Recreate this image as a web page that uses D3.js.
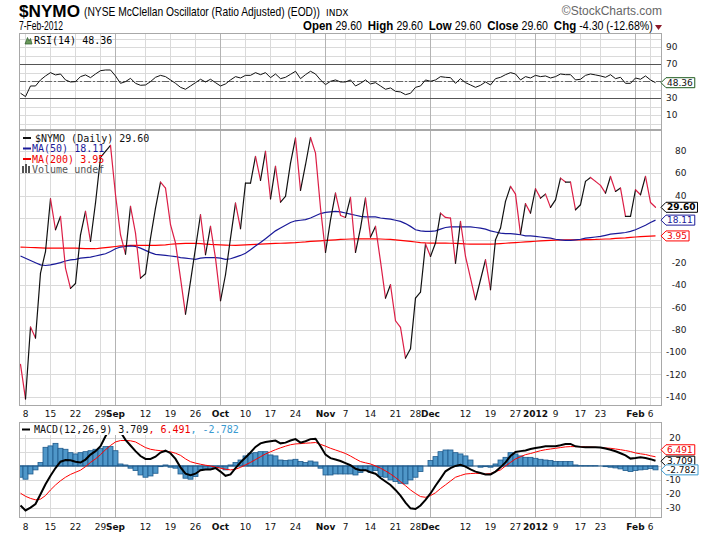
<!DOCTYPE html>
<html>
<head>
<meta charset="utf-8">
<script src="https://cdn.jsdelivr.net/npm/d3@7"></script>
<style>
body { margin:0; background:#fff; }
</style>
</head>
<body>
<div id="chart"></div>
<script>
// trading-day index of each date label, text, and whether it starts a month
var tickIdx    = [1, 6, 11, 16, 19, 25, 30, 35, 40, 45, 50, 55, 61, 65, 70, 75, 79, 82, 89, 94, 99, 103, 107, 112, 116, 123, 126];
var tickLabels = ["8","15","22","29","Sep","12","19","26","Oct","10","17","24","Nov","7","14","21","28","Dec","12","19","27","2012","9","17","23","Feb","6"];
var tickMonth  = [0,0,0,0,1,0,0,0,1,0,0,0,1,0,0,0,0,1,0,0,0,1,0,0,0,1,0];

// $NYMO daily close, 5-Aug-2011 .. 7-Feb-2012
var nymo = [-111, -142, -77.6, -87.5, -29.3, -10, 37.2, 9.5, 21.4, -24.8,
  -43, -38.6, 5, 25.9, -1, 33.4, 74.2, 79.6, 85, 40.8,
  5, -12.3, 30.4, 6.5, -33.8, -29.9, 2, 28.9, 52.2, 46.8,
  14, -2.4, -33.8, -66, -36.8, -6.9, 22.9, -12.9, 12.5, -15.9,
  -54.1, -30.8, 2, 33.4, 10.4, 51.3, 51.3, 75.1, 53.7, 79.6,
  37.2, 66.2, 34.3, 39.3, 69.2, 91.5, 44.7, 67.7, 92.1, 78.1,
  28.9, -10.8, 18.4, 42.3, 22.3, 20.5, 38.4, -10.8, 11, 37.8,
  2.9, 12.5, -18.9, -51.7, -39.8, -72, -78, -105.4, -97, -51.7,
  -46.3, -3.3, -14.4, -2.4, 24.4, 20.5, 19.9, -20.4, 16.9, -14.4,
  -33.8, -53.2, -35.3, -17.4, -44.2, 0.5, 11, 34.9, 48.3, 41.4,
  5.6, 32.8, 24.4, 46.2, 37.8, 41.4, 29.5, 36.3, 55.7, 52.2,
  52.2, 27.4, 31.9, 52.8, 56.3, 52.8, 49.2, 42.3, 57.2, 43.8,
  46.8, 21.4, 21.4, 45.3, 40.8, 57.2, 33.9, 29.6];

var ma50 = [-14, -16, -18, -20, -22, -22.5, -22, -21, -20, -18.5,
  -17.5, -17, -16, -15.5, -15, -14, -13, -12, -10, -7.5,
  -6, -5.5, -5, -5.5, -7, -9, -11, -12.5, -13, -13.5,
  -14, -14.5, -15.5, -16, -16.5, -17, -16, -15.5, -15.5, -15.5,
  -16, -17, -16.5, -15, -13.5, -11.5, -8.5, -5, -2, 1.5,
  5, 8.5, 11, 13.5, 16, 17.5, 18, 18.5, 20, 22,
  24, 25, 25.5, 26, 25.5, 24.5, 23.5, 22.5, 21.5, 21,
  21, 21, 20, 19.5, 19, 18, 17, 15, 12.5, 9.5,
  8.5, 8, 8, 8.5, 10, 11.5, 12, 12, 12, 12,
  12, 11.5, 11, 10, 8.5, 7.5, 6.5, 6, 6, 5.5,
  5, 4, 4, 3.5, 3, 2.5, 2, 1, 0.5, 0,
  0, 0.5, 1, 2, 2.5, 3, 3.5, 4.5, 5.5, 6,
  6.5, 7, 8, 9.5, 11.5, 13.5, 16, 18.11];

var ma200 = [-6, -6.2, -6.4, -6.6, -6.8, -7, -7, -7, -7, -7,
  -7, -7, -7.2, -7.4, -7.5, -7.5, -7, -6.5, -6, -5.5,
  -5, -4.8, -4.5, -4.5, -4.5, -4.5, -4.5, -4.5, -4.2, -4,
  -3.5, -3.2, -3, -2.8, -2.7, -2.7, -3, -3.3, -3.6, -3.8,
  -4, -4.2, -4.4, -4.5, -4.2, -4, -3.8, -3.6, -3.4, -3.2,
  -3, -2.8, -2.6, -2.4, -2.2, -2, -1.7, -1.4, -1, -0.7,
  -0.4, -0.1, 0.2, 0.5, 0.8, 1, 1.2, 1.3, 1.4, 1.4,
  1.4, 1.3, 1.2, 1, 0.8, 0.5, 0, -0.5, -1, -1.5,
  -2, -2.3, -2.4, -2.4, -2.4, -2.4, -2.6, -2.8, -3, -3.2,
  -3.3, -3.4, -3.4, -3.4, -3.3, -3.2, -2.9, -2.6, -2.3, -2,
  -1.7, -1.4, -1.1, -0.8, -0.5, -0.2, 0, 0.2, 0.3, 0.4,
  0.5, 0.5, 0.5, 0.6, 0.7, 0.8, 1, 1.2, 1.4, 1.7,
  2, 2.3, 2.7, 3, 3.3, 3.6, 3.8, 3.95];

var rsi = [36, 32, 44.5, 44.5, 51.6, 56.3, 60.2, 57.5, 58.6, 51.6,
  49.2, 49.6, 55.5, 57.5, 54.3, 58.6, 62.5, 63.3, 63.3, 56.3,
  47.6, 49.6, 53.5, 47.6, 45.3, 45.7, 49.6, 54.7, 57, 55.5,
  51.6, 47.6, 42.9, 40.6, 44.5, 48.4, 52.4, 49.2, 52.4, 48.4,
  44.5, 46.9, 51.6, 55.5, 53.9, 57, 57, 60.2, 57.8, 60.2,
  54.3, 58.6, 53.1, 54.7, 58.2, 61.8, 53.1, 57.8, 61.8, 58.6,
  51.6, 46.1, 50, 51.6, 49.2, 49.2, 51.6, 44.5, 47.6, 51.6,
  46.9, 48.4, 44.5, 40.6, 42.2, 38.2, 37.5, 34.3, 35.9, 42.9,
  44.5, 51.6, 50, 51.6, 55.5, 54.7, 54.3, 47.6, 53.1, 48.4,
  45.7, 42.9, 45.3, 49.2, 45.7, 53.1, 54.7, 57.8, 60.2, 58.6,
  51.6, 55.5, 53.9, 57, 55.5, 56.3, 53.9, 55.5, 58.6, 57.8,
  57.8, 51.6, 52.4, 57, 58.6, 57.5, 56.3, 54.7, 57.8, 53.1,
  54.7, 47.6, 47.6, 53.9, 52.4, 56.3, 51.6, 48.36];

var macd = [-28, -31.5, -29.5, -27, -20, -13, -7, -1.5, 3, 4.2,
  4, 3, 2.4, 4.5, 8, 10.5, 14, 21, 27.5, 29,
  24, 18.5, 14.5, 10.5, 7, 5, 5, 6.5, 9.5, 10.8,
  9, 5, -1, -5.5, -6.5, -5.5, -3, -2.5, -2.5, -1.5,
  -4, -7, -6, -1.5, 2.5, 6, 9.5, 13.5, 16, 17,
  17.5, 18, 16, 16.5, 18, 19, 16.5, 17.5, 19, 19.3,
  14, 8, 5.5, 4.5, 3.5, 2, 0.5, -2, -3, -3,
  -4.5, -5.5, -8.5, -11, -13.5, -17, -21, -26, -30, -30.5,
  -28, -24, -19.5, -14, -9, -3.8, -1.5, 0, 0.8, -0.5,
  -2.5, -4, -5, -6, -6, -4, -1, 2.5, 7, 9.9,
  10.5, 11, 12, 12.7, 13.3, 13.9, 13.9, 14, 14.6, 15.5,
  15.6, 13.9, 13.5, 13.2, 13.2, 13.2, 13, 12.3, 11.5, 10.4,
  9, 7.5, 5.2, 5.6, 6.1, 5.6, 4.8, 3.709];

var signal = [-19.3, -21.5, -23, -24, -23.5, -21, -17, -13.5, -10.5, -8,
  -6, -4.5, -3, -0.5, 2.5, 5, 8, 11.5, 14.5, 17,
  18, 18, 17.8, 17, 15, 13, 11.8, 11.2, 10.8, 10.4,
  10, 9, 7.5, 5, 3, 2, 1.2, 0.5, 0, -0.8,
  -1.6, -2.3, -2.8, -2.3, -1, 0.8, 2.5, 4.5, 6.5, 8.5,
  10, 11.5, 12.8, 14, 15, 15.6, 15.8, 16.1, 16.3, 16.6,
  15.3, 14, 12.5, 11.3, 10.1, 8.8, 7, 5, 3.1, 2.2,
  1.4, 0, -1.6, -3.5, -5.7, -8.2, -11.1, -14, -17, -19.5,
  -21.7, -22.2, -21, -19, -16, -13.4, -10.7, -8, -6.8, -5.7,
  -5.4, -5.2, -5.4, -5.7, -5.4, -4, -2.8, 0, 2.5, 5,
  6.5, 8, 8.8, 9.8, 10.8, 11.5, 12, 12.5, 13, 13.5,
  13.7, 13.7, 13.7, 13.5, 13.4, 13.2, 13, 12.7, 12.5, 12,
  11.5, 10.9, 10.2, 9.2, 8.6, 8.1, 7.2, 6.491];

var hist = [-8, -9.4, -5.7, -2.8, 2.4, 13.2, 14.2, 16, 12.5, 11.8,
  9.4, 8.5, 9.4, 10.1, 10.8, 11.8, 12.5, 13.7, 13.7, 10.8,
  1.4, 0.7, -1.6, -3.3, -6.4, -8, -7.1, -5.2, -0.5, 0.7,
  -0.9, -1.6, -5.7, -8.7, -9.4, -7.5, -2.8, -2.4, -2.4, -1.6,
  -0.9, -2.8, 0.7, 2.4, 4.2, 7.1, 8.9, 9.4, 10.1, 10.1,
  7.8, 7.1, 4.2, 3.8, 4.2, 4.7, 3.1, 2.4, 3.5, 2.8,
  -1.6, -6.4, -6.4, -5.7, -5.7, -5.7, -5.7, -6.4, -4.7, -2.8,
  -4.7, -3.3, -7.5, -8, -9.9, -11.1, -12.3, -12.7, -9.9, -8,
  -4, 0, 3.8, 6.6, 10.1, 11.3, 11.3, 9.4, 8.5, 7.1,
  4.2, 0, -0.9, -0.5, -0.9, 1.4, 4.2, 6.1, 9.4, 8.5,
  7.1, 6.1, 6.1, 5.4, 4.7, 4.2, 3.8, 3.1, 3.1, 3.1,
  3.1, 0.7, 0.2, 0.2, 0.2, 0.2, 0, -0.5, -0.9, -1.4,
  -2.1, -3.3, -4, -3.3, -2.8, -2.4, -1.9, -2.782];

var rsiGrid  = [0,10,20,30,40,50,60,70,80,90,100];
var rsiTicks = [90,70,30,10];
var mainGrid = [80,60,40,20,0,-20,-40,-60,-80,-100,-120,-140];
var mainTicks = [80,60,40,-20,-40,-60,-80,-100,-120,-140];   // 20 and 0 sit under the value tags
var macdGrid = [20,10,0,-10,-20,-30];
var macdTicks = [20,-10,-20,-30];

var W = 709, H = 535;
var L = 19, R = 662;
var axisFont = "DejaVu Sans", legFont = "DejaVu Sans Mono", headFont = "'Liberation Sans',Arial,sans-serif";

var svg = d3.select("#chart").append("svg").attr("width", W).attr("height", H);
svg.append("rect").attr("width", W).attr("height", H).attr("fill", "#fff");

var x = d3.scaleLinear().domain([0, nymo.length - 1]).range([20.5, 655.5]);
var yR = d3.scaleLinear().domain([0, 100]).range([123.8, 38.8]);
var yM = d3.scaleLinear().domain([-140, 80]).range([396.7, 151]);
var yC = d3.scaleLinear().domain([-30, 20]).range([508.3, 437.7]);

function panel(name, top, bot, y, gridVals) {
  var g = svg.append("g");
  g.append("clipPath").attr("id", "clip-" + name)
    .append("rect").attr("x", L).attr("y", top).attr("width", R - L).attr("height", bot - top);
  g.selectAll("line.h").data(gridVals.filter(function(v) { return y(v) > top + 1 && y(v) < bot - 1; }))
    .enter().append("line").attr("class", "h")
    .attr("x1", L).attr("x2", R)
    .attr("y1", function(d) { return Math.round(y(d)) + 0.5; })
    .attr("y2", function(d) { return Math.round(y(d)) + 0.5; })
    .attr("stroke", "#dadada").attr("shape-rendering", "crispEdges");
  g.selectAll("line.v").data(tickIdx)
    .enter().append("line").attr("class", "v")
    .attr("x1", function(d) { return x(d); }).attr("x2", function(d) { return x(d); })
    .attr("y1", top).attr("y2", bot)
    .attr("stroke", function(d, k) { return tickMonth[k] ? "#b4b4b4" : "#dadada"; })
    .attr("shape-rendering", "crispEdges");
  var plot = g.append("g").attr("clip-path", "url(#clip-" + name + ")");
  return {g: g, plot: plot, top: top, bot: bot};
}

function frame(p) {
  p.g.append("rect").attr("x", L + 0.5).attr("y", p.top + 0.5)
    .attr("width", R - L - 1).attr("height", p.bot - p.top - 1)
    .attr("fill", "none").attr("stroke", "#a8a8a8").attr("shape-rendering", "crispEdges");
}

function axisLabels(vals, y) {
  var g = svg.append("g").attr("font-family", axisFont).attr("font-size", 9).attr("fill", "#222");
  var t = g.selectAll("text").data(vals).enter().append("text")
    .attr("y", function(d) { return y(d); }).attr("dy", "0.35em")
    .text(function(d) { return d; });
  var maxW = d3.max(t.nodes(), function(n) { return n.getComputedTextLength(); });
  t.attr("x", 666 + maxW).attr("text-anchor", "end");
}

function dateLabels(yb) {
  svg.append("g").attr("font-family", axisFont).attr("font-size", 9).attr("fill", "#111")
    .selectAll("text").data(tickIdx).enter().append("text")
    .attr("x", function(d) { return x(d); }).attr("y", yb)
    .attr("text-anchor", "middle")
    .attr("font-weight", function(d, k) { return tickMonth[k] ? "bold" : "normal"; })
    .text(function(d, k) { return tickLabels[k]; });
}

function tag(yv, txt, stroke, color, bold) {
  var g = svg.append("g");
  var t = g.append("text").attr("x", 667).attr("y", yv).attr("dy", "0.35em")
    .attr("font-family", axisFont).attr("font-size", 9).attr("fill", color)
    .attr("font-weight", bold ? "bold" : "normal").text(txt);
  var w = t.node().getComputedTextLength();
  var x0 = 661, x1 = 667 + w + 2, h = 5;
  g.insert("path", "text")
    .attr("d", "M" + x0 + "," + yv + "L" + (x0 + 5) + "," + (yv - h) + "L" + x1 + "," + (yv - h) +
               "L" + x1 + "," + (yv + h) + "L" + (x0 + 5) + "," + (yv + h) + "Z")
    .attr("fill", "#fff").attr("stroke", stroke).attr("stroke-width", 1);
}

// header text squeezed horizontally to look like a narrow face
function narrow(g, x0, y0, width, anchorEnd) {
  var t = g.select("text");
  var w = t.node().getComputedTextLength();
  var s = width / w;
  var tx = anchorEnd ? x0 - width : x0;
  g.attr("transform", "translate(" + tx + "," + y0 + ") scale(" + s + ",1)");
}

// ---------- header ----------
var h1 = svg.append("g");
h1.append("text").attr("font-family", headFont).attr("font-size", 16).attr("font-weight", "bold").text("$NYMO");
narrow(h1, L, 17, 61);
var h2 = svg.append("g");
h2.append("text").attr("font-family", headFont).attr("font-size", 12)
  .text("(NYSE McClellan Oscillator (Ratio Adjusted) (EOD))");
narrow(h2, 84, 16, 236);
svg.append("text").attr("x", 326).attr("y", 16).attr("font-family", axisFont)
  .attr("font-size", 9).text("INDX");
svg.append("text").attr("x", R).attr("y", 15).attr("text-anchor", "end").attr("font-family", headFont)
  .attr("font-size", 12).attr("fill", "#666").text("\u00a9StockCharts.com");
var h3 = svg.append("g");
h3.append("text").attr("font-family", headFont).attr("font-size", 12).text("7-Feb-2012");
narrow(h3, L, 30, 44);

var h4 = svg.append("g");
var quote = h4.append("text").attr("font-family", headFont).attr("font-size", 12).attr("xml:space", "preserve");
[["Open ", 1], ["29.60  ", 0], ["High ", 1], ["29.60  ", 0], ["Low ", 1], ["29.60  ", 0],
 ["Close ", 1], ["29.60  ", 0], ["Chg ", 1], ["-4.30 (-12.68%)", 0]].forEach(function(p) {
  quote.append("tspan").attr("font-weight", p[1] ? "bold" : "normal")
    .attr("font-size", p[1] ? 13 : 12).text(p[0]);
});
narrow(h4, 653, 30, 350, true);
svg.append("path").attr("d", "M655,25L662,25L658.5,30Z").attr("fill", "#8b1a2b");

// ---------- RSI panel ----------
var pR = panel("rsi", 33, 130, yR, rsiGrid);
[30, 70].forEach(function(v) {
  pR.plot.append("line").attr("x1", L).attr("x2", R)
    .attr("y1", Math.round(yR(v)) + 0.5).attr("y2", Math.round(yR(v)) + 0.5)
    .attr("stroke", "#555").attr("shape-rendering", "crispEdges");
});
pR.plot.append("line").attr("x1", L).attr("x2", R)
  .attr("y1", Math.round(yR(50)) + 0.5).attr("y2", Math.round(yR(50)) + 0.5)
  .attr("stroke", "#666").attr("stroke-dasharray", "7,2,2,2").attr("shape-rendering", "crispEdges");
pR.plot.append("path").datum(rsi)
  .attr("d", d3.line().x(function(d, i) { return x(i); }).y(function(d) { return yR(d); }))
  .attr("fill", "none").attr("stroke", "#111").attr("stroke-width", 1);
frame(pR);
pR.g.append("path").attr("d", "M25,44L27.5,37.5L29,41L30.5,38.5L32,44Z")
  .attr("fill", "#6a9a5a").attr("stroke", "#2d5a2d").attr("stroke-width", 0.7);
pR.g.append("text").attr("x", 34).attr("y", 44).attr("font-family", legFont).attr("font-size", 10)
  .text("RSI(14) 48.36");

// ---------- price panel ----------
var pM = panel("main", 130, 406, yM, mainGrid);
pM.plot.append("path").datum(ma200)
  .attr("d", d3.line().x(function(d, i) { return x(i); }).y(function(d) { return yM(d); }))
  .attr("fill", "none").attr("stroke", "#ff0000").attr("stroke-width", 1.2);
pM.plot.append("path").datum(ma50)
  .attr("d", d3.line().x(function(d, i) { return x(i); }).y(function(d) { return yM(d); }))
  .attr("fill", "none").attr("stroke", "#1a1a99").attr("stroke-width", 1.2);
pM.plot.selectAll("line.seg").data(d3.pairs(nymo.map(function(v, i) { return [i, v]; })))
  .enter().append("line").attr("class", "seg")
  .attr("x1", function(d) { return x(d[0][0]); }).attr("y1", function(d) { return yM(d[0][1]); })
  .attr("x2", function(d) { return x(d[1][0]); }).attr("y2", function(d) { return yM(d[1][1]); })
  .attr("stroke", function(d) { return d[1][1] >= d[0][1] ? "#111" : "#dc1e46"; })
  .attr("stroke-width", 1.2).attr("stroke-linecap", "round");
frame(pM);

var leg = pM.g.append("g").attr("font-family", legFont).attr("font-size", 10);
[["$NYMO (Daily) 29.60", "#111", 141.5], ["MA(50) 18.11", "#1a1a99", 152], ["MA(200) 3.95", "#ee0000", 162.5]]
.forEach(function(r, k) {
  leg.append("line").attr("x1", 23).attr("x2", 31).attr("y1", r[2] - 3.5).attr("y2", r[2] - 3.5)
    .attr("stroke", r[1]).attr("stroke-width", 2);
  leg.append("text").attr("x", k === 0 ? 35 : 32).attr("y", r[2]).attr("fill", r[1]).text(r[0]);
});
[0, 1, 2].forEach(function(k) {
  leg.append("rect").attr("x", 22 + k * 3).attr("y", 166 - (k === 1 ? 2 : 0)).attr("width", 2)
    .attr("height", 7 + (k === 1 ? 2 : 0)).attr("fill", "#555");
});
leg.append("text").attr("x", 32).attr("y", 173).attr("fill", "#555").text("Volume undef");

// ---------- MACD panel ----------
var pC = panel("macd", 422, 518, yC, macdGrid);
pC.plot.selectAll("rect.bar").data(hist).enter().append("rect").attr("class", "bar")
  .attr("x", function(d, i) { return x(i) - 2.5; }).attr("width", 5)
  .attr("y", function(d) { return Math.min(yC(d), yC(0)); })
  .attr("height", function(d) { return Math.abs(yC(d) - yC(0)); })
  .attr("fill", "#4f97c9").attr("stroke", "#1f5a8c").attr("stroke-width", 0.8);
pC.plot.append("line").attr("x1", x(0) - 2.5).attr("x2", x(hist.length - 1) + 2.5)
  .attr("y1", yC(0)).attr("y2", yC(0)).attr("stroke", "#1f5a8c").attr("stroke-width", 1);
pC.plot.append("path").datum(signal)
  .attr("d", d3.line().x(function(d, i) { return x(i); }).y(function(d) { return yC(d); }))
  .attr("fill", "none").attr("stroke", "#ff0000").attr("stroke-width", 1);
pC.plot.append("path").datum(macd)
  .attr("d", d3.line().x(function(d, i) { return x(i); }).y(function(d) { return yC(d); }))
  .attr("fill", "none").attr("stroke", "#000").attr("stroke-width", 2);
frame(pC);
var legC = pC.g.append("text").attr("x", 34).attr("y", 433).attr("font-family", legFont).attr("font-size", 10)
  .attr("xml:space", "preserve");
legC.append("tspan").attr("fill", "#111").text("MACD(12,26,9) 3.709");
legC.append("tspan").attr("fill", "#ee0000").text(", 6.491");
legC.append("tspan").attr("fill", "#3a9ad0").text(", -2.782");
var lw = legC.node().getComputedTextLength();
pC.g.insert("rect", "text").attr("x", 20).attr("y", 423).attr("width", lw + 16).attr("height", 12).attr("fill", "#fff");
pC.g.append("line").attr("x1", 22).attr("x2", 30).attr("y1", 429.5).attr("y2", 429.5)
  .attr("stroke", "#000").attr("stroke-width", 2);

// ---------- axes ----------
axisLabels(rsiTicks, yR);
axisLabels(mainTicks, yM);
axisLabels(macdTicks, yC);
dateLabels(416.5);
dateLabels(529.5);

tag(yR(rsi[rsi.length - 1]), "48.36", "#1e5a1e", "#111", false);
tag(yM(nymo[nymo.length - 1]), "29.60", "#000", "#000", true);
tag(yM(ma50[ma50.length - 1]), "18.11", "#1a1a99", "#1a1a99", false);
tag(yM(ma200[ma200.length - 1]), "3.95", "#ff0000", "#ee0000", false);
// signal tag lifted so its text clears the MACD tag below it
tag(yC(signal[signal.length - 1]) - 7, "6.491", "#ff0000", "#ee0000", false);
tag(yC(macd[macd.length - 1]) + 0.5, "3.709", "#000", "#000", false);
tag(yC(hist[hist.length - 1]), "-2.782", "#3a9ad0", "#111", false);
</script>
</body>
</html>
